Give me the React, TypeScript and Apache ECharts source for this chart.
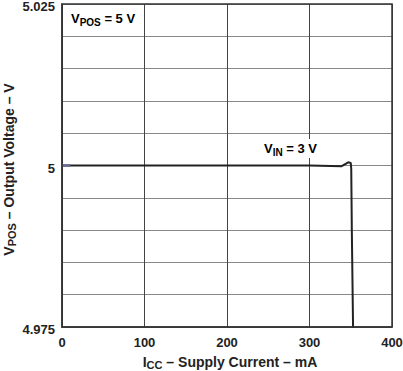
import React, { useEffect, useRef } from "react";
import * as echarts from "echarts";

const currentMA = [0, 100, 200, 300, 339, 347, 350, 350.6, 351.3, 352.9];
const outputV = [5, 5, 5, 5, 4.9999, 5.0005, 5.0004, 4.9995, 4.99, 4.974];
const startCurrent = [0, 10];
const startV = [5, 5];
const yLabels = [4.975, 5, 5.025];
const xTicks = [0, 100, 200, 300, 400];

const FONT = "Liberation Sans, Arial, sans-serif";

export default function App() {
  const ref = useRef<HTMLDivElement>(null);
  useEffect(() => {
    document.body.style.margin = "0";
    const chart = echarts.init(ref.current!, undefined, { renderer: "svg" });
    const rich = {
      v: { fontSize: 13, fontWeight: "bold", fontFamily: FONT, color: "#222", lineHeight: 17, verticalAlign: "middle" },
      s: { fontSize: 10, fontWeight: "bold", fontFamily: FONT, color: "#222", lineHeight: 11, verticalAlign: "bottom" },
    };
    const titleRich = {
      s: { ...rich.v, fontSize: 14, lineHeight: 16 },
      ss: { ...rich.s, fontSize: 11, lineHeight: 10 },
    };
    chart.setOption({
      animation: false,
      grid: { left: 62, right: 11, top: 4, bottom: 44, show: false, containLabel: false, outerBoundsMode: "none" },
      xAxis: {
        type: "value",
        min: 0,
        max: 400,
        interval: 100,
        name: "{s|I}{ss|CC}{s| – Supply Current – mA}",
        nameLocation: "middle",
        nameGap: 27,
        nameMoveOverlap: false,
        nameTextStyle: { rich: titleRich, padding: [0, 0, 0, 6] },
        axisLine: { show: true, onZero: false, lineStyle: { color: "#333", width: 1.5 } },
        axisTick: { show: false },
        axisLabel: {
          margin: 9,
          fontSize: 13,
          fontWeight: "bold",
          fontFamily: FONT,
          color: "#222",
          formatter: (v: number) => (xTicks.includes(v) ? String(v) : ""),
        },
        splitLine: { show: true, lineStyle: { color: "#444", width: 1 } },
      },
      yAxis: {
        type: "value",
        min: 4.975,
        max: 5.025,
        interval: 0.005,
        name: "{s|V}{ss|POS}{s| – Output Voltage – V}",
        nameLocation: "middle",
        nameGap: 45,
        nameMoveOverlap: false,
        nameTextStyle: { rich: titleRich, padding: [0, 8, 0, 0] },
        axisLine: { show: true, onZero: false, lineStyle: { color: "#333", width: 1.5 } },
        axisTick: { show: false },
        axisLabel: {
          margin: 7,
          fontSize: 13,
          fontWeight: "bold",
          fontFamily: FONT,
          color: "#222",
          verticalAlign: "top",
          lineHeight: 5,
          formatter: (v: number) => {
            const hit = yLabels.find((l) => Math.abs(l - v) < 1e-6);
            return hit === undefined ? "" : String(hit);
          },
        },
        splitLine: { show: true, lineStyle: { color: "#888", width: 1 } },
      },
      graphic: [
        {
          type: "rect",
          shape: { x: 62, y: 4, width: 330, height: 323 },
          style: { fill: "none", stroke: "#333", lineWidth: 1.5 },
          silent: true,
          z: 10,
        },
        {
          type: "text",
          left: 71,
          top: 10,
          style: {
            text: "{v|V}{s|POS}{v| = 5 V}",
            rich,
            backgroundColor: "#fff",
            padding: [0, 2, 0, 0],
          },
          z: 5,
        },
        {
          type: "text",
          left: 262,
          top: 139,
          style: {
            text: "{v|V}{s|IN}{v| = 3 V}",
            rich,
            backgroundColor: "#fff",
            padding: [1, 12, 1, 2],
          },
          z: 5,
        },
      ],
      series: [
        {
          type: "line",
          data: currentMA.map((c, i) => [c, outputV[i]]),
          showSymbol: false,
          lineStyle: { color: "#222", width: 2 },
          z: 3,
        },
        {
          type: "line",
          data: startCurrent.map((c, i) => [c, startV[i]]),
          showSymbol: false,
          lineStyle: { color: "#6a6a98", width: 2.5 },
          z: 4,
        },
      ],
    });
    return () => chart.dispose();
  }, []);
  return <div ref={ref} style={{ width: 403, height: 371 }} />;
}
